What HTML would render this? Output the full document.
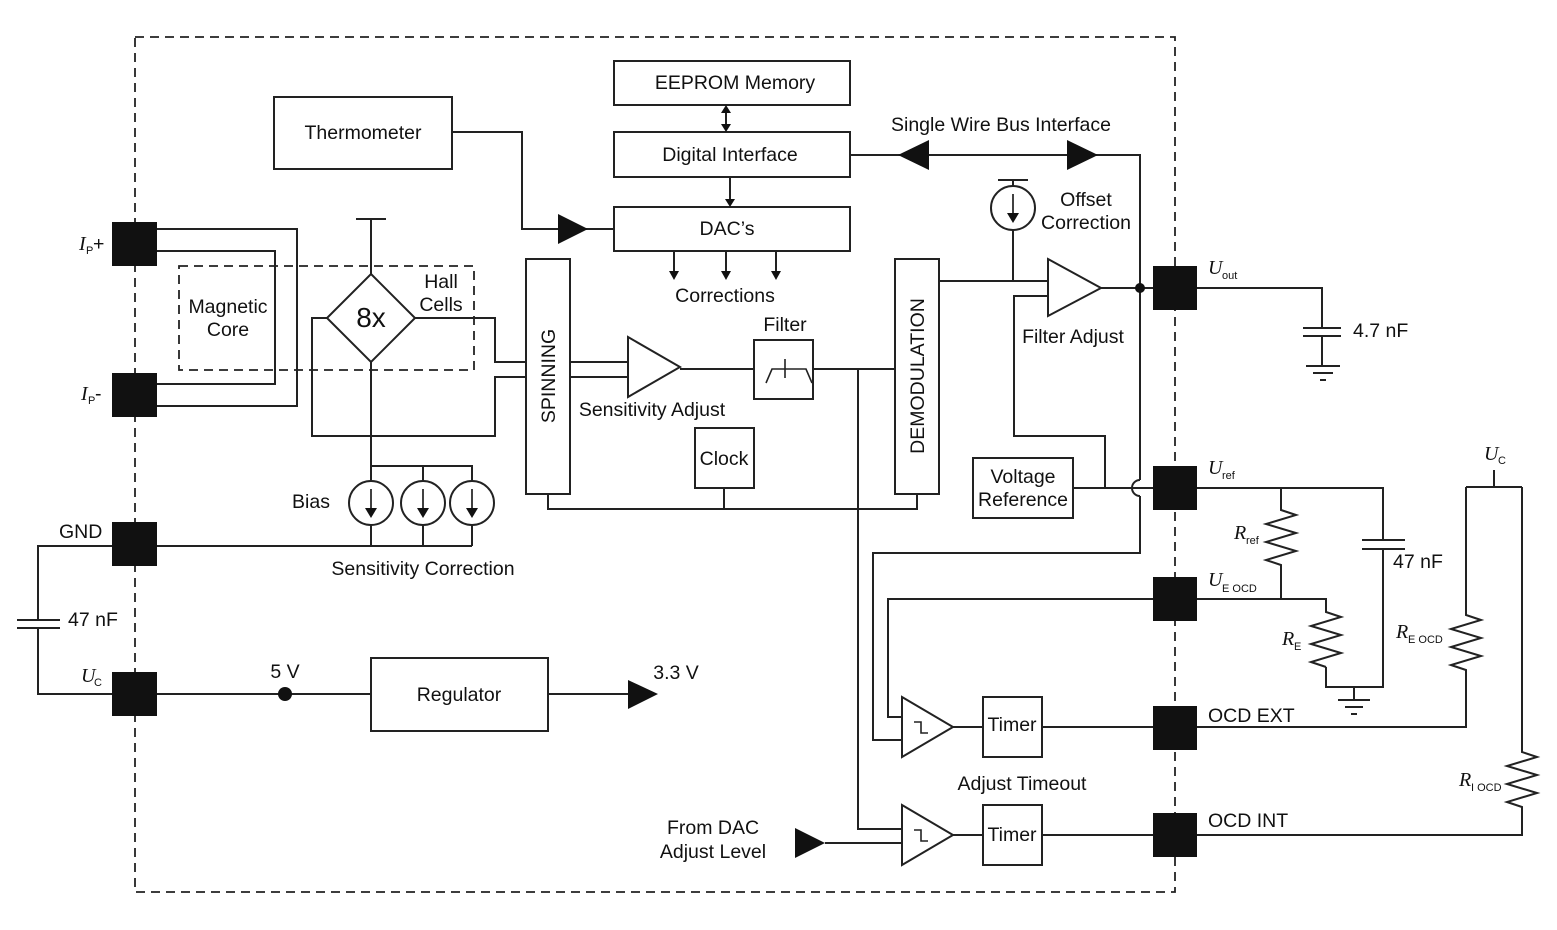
<!DOCTYPE html>
<html><head><meta charset="utf-8"><style>
html,body{margin:0;padding:0;background:#fff}
svg{display:block}
text{font-family:"Liberation Sans",Arial,sans-serif;font-size:19.5px;fill:#111}
.i{font-family:"Liberation Serif",serif;font-style:italic;font-size:20px}
.s{font-size:11px}
</style></head><body>
<svg width="1557" height="930" viewBox="0 0 1557 930" xmlns="http://www.w3.org/2000/svg">
<g fill="none" stroke="#222" stroke-width="2">
<rect x="135" y="37" width="1040" height="855" stroke-dasharray="9,6" stroke-width="1.8"/>
<rect x="179" y="266" width="295" height="104" stroke-dasharray="9,6" stroke-width="1.8"/>
<rect x="614" y="61" width="236" height="44"/>
<rect x="614" y="132" width="236" height="45"/>
<rect x="614" y="207" width="236" height="44"/>
<rect x="274" y="97" width="178" height="72"/>
<rect x="526" y="259" width="44" height="235"/>
<rect x="895" y="259" width="44" height="235"/>
<rect x="754" y="340" width="59" height="59"/>
<rect x="695" y="428" width="59" height="60"/>
<rect x="973" y="458" width="100" height="60"/>
<rect x="371" y="658" width="177" height="73"/>
<rect x="983" y="697" width="59" height="60"/>
<rect x="983" y="805" width="59" height="60"/>
<polyline points="157,229 297,229 297,406 157,406"/>
<polyline points="157,251 275,251 275,384 157,384"/>
<polygon points="371,274 415,318 371,362 327,318"/>
<polyline points="371,274 371,219"/><line x1="356" y1="219" x2="386" y2="219"/>
<polyline points="327,318 312,318 312,436 495,436 495,377 526,377"/>
<polyline points="415,318 495,318 495,362 526,362"/>
<polyline points="371,362 371,546"/>
<polyline points="371,466 472,466 472,546"/><line x1="423" y1="466" x2="423" y2="546"/>
<circle cx="371" cy="503" r="22" fill="#fff"/><circle cx="423" cy="503" r="22" fill="#fff"/><circle cx="472" cy="503" r="22" fill="#fff"/>
<line x1="157" y1="546" x2="472" y2="546"/>
<line x1="570" y1="362" x2="628" y2="362"/><line x1="570" y1="377" x2="628" y2="377"/>
<polygon points="628,337 680,367 628,397" fill="#fff"/>
<line x1="680" y1="369" x2="754" y2="369"/>
<line x1="813" y1="369" x2="895" y2="369"/>
<polyline points="766,383 772,369 806,369 812,383" stroke-width="1.6"/><line x1="785" y1="359" x2="785" y2="378" stroke-width="1.6"/>
<polyline points="548,494 548,509 917,509 917,494"/><line x1="724" y1="488" x2="724" y2="509"/>
<polyline points="452,132 522,132 522,229 614,229"/>
<line x1="726" y1="108" x2="726" y2="129"/>
<line x1="730" y1="177" x2="730" y2="204"/>
<line x1="674" y1="251" x2="674" y2="278"/><line x1="726" y1="251" x2="726" y2="278"/><line x1="776" y1="251" x2="776" y2="278"/>
<polyline points="850,155 1140,155 1140,480"/>
<path d="M1140,480 A8,8 0 0 0 1140,496"/>
<polyline points="1140,496 1140,553 873,553 873,740 902,740"/>
<line x1="998" y1="180" x2="1028" y2="180"/><line x1="1013" y1="180" x2="1013" y2="186"/>
<circle cx="1013" cy="208" r="22" fill="#fff"/>
<line x1="1013" y1="230" x2="1013" y2="281"/>
<line x1="939" y1="281" x2="1048" y2="281"/>
<polygon points="1048,259 1101,288 1048,316" fill="#fff"/>
<polyline points="1048,296 1014,296 1014,436 1105,436 1105,488"/>
<line x1="1101" y1="288" x2="1153" y2="288"/>
<line x1="1073" y1="488" x2="1153" y2="488"/>
<polyline points="858,369 858,829 902,829"/>
<polyline points="1153,599 888,599 888,717 902,717"/>
<polygon points="902,697 953,727 902,757" fill="#fff"/>
<polygon points="902,805 953,835 902,865" fill="#fff"/>
<polyline points="914,722 921,722 921,733 928,733" stroke-width="1.6"/>
<polyline points="914,830 921,830 921,841 928,841" stroke-width="1.6"/>
<line x1="953" y1="727" x2="983" y2="727"/><line x1="1042" y1="727" x2="1153" y2="727"/>
<line x1="953" y1="835" x2="983" y2="835"/><line x1="1042" y1="835" x2="1153" y2="835"/>
<line x1="825" y1="843" x2="902" y2="843"/>
<line x1="157" y1="694" x2="371" y2="694"/>
<line x1="548" y1="694" x2="632" y2="694"/>
<polyline points="112,546 38,546 38,620"/><polyline points="38,628 38,694 112,694"/>
<line x1="17" y1="620" x2="60" y2="620"/><line x1="17" y1="628" x2="60" y2="628"/>
<polyline points="1197,288 1322,288 1322,328"/><line x1="1303" y1="328" x2="1341" y2="328"/><line x1="1303" y1="336" x2="1341" y2="336"/>
<line x1="1322" y1="336" x2="1322" y2="366"/>
<line x1="1306" y1="366" x2="1340" y2="366"/><line x1="1313" y1="373" x2="1333" y2="373"/><line x1="1320" y1="380" x2="1326" y2="380"/>
<polyline points="1197,488 1383,488 1383,540"/>
<line x1="1362" y1="540" x2="1405" y2="540"/><line x1="1362" y1="549" x2="1405" y2="549"/>
<polyline points="1383,549 1383,687 1326,687 1326,667"/>
<polyline points="1281,488 1281,510 1296,515 1266,524 1296,533 1266,542 1296,551 1266,560 1281,565 1281,599"/>
<polyline points="1197,599 1326,599 1326,612 1341,617 1311,626 1341,635 1311,644 1341,653 1311,662 1326,667"/>
<line x1="1354" y1="687" x2="1354" y2="700"/>
<line x1="1338" y1="700" x2="1370" y2="700"/><line x1="1345" y1="707" x2="1363" y2="707"/><line x1="1351" y1="714" x2="1357" y2="714"/>
<line x1="1494" y1="470" x2="1494" y2="487"/>
<polyline points="1466,487 1522,487"/>
<polyline points="1466,487 1466,615 1481,620 1451,629 1481,638 1451,647 1481,656 1451,665 1466,670 1466,727 1197,727"/>
<polyline points="1522,487 1522,752 1537,757 1507,766 1537,775 1507,784 1537,793 1507,802 1522,807 1522,835 1197,835"/>
</g>
<g fill="#111" stroke="none">
<rect x="112" y="222" width="45" height="44"/><rect x="112" y="373" width="45" height="44"/>
<rect x="112" y="522" width="45" height="44"/><rect x="112" y="672" width="45" height="44"/>
<rect x="1153" y="266" width="44" height="44"/><rect x="1153" y="466" width="44" height="44"/>
<rect x="1153" y="577" width="44" height="44"/><rect x="1153" y="706" width="44" height="44"/>
<rect x="1153" y="813" width="44" height="44"/>
<polygon points="721,113 731,113 726,105"/><polygon points="721,124 731,124 726,132"/>
<polygon points="725,199 735,199 730,207"/>
<polygon points="669,271 679,271 674,280"/><polygon points="721,271 731,271 726,280"/><polygon points="771,271 781,271 776,280"/>
<polygon points="558,214 588,229 558,244"/>
<polygon points="929,140 898,155 929,170"/><polygon points="1067,140 1098,155 1067,170"/>
<polygon points="628,680 658,694 628,709"/>
<polygon points="795,828 825,843 795,858"/>
<circle cx="1140" cy="288" r="5"/><circle cx="285" cy="694" r="7"/>
<polygon points="365,508 377,508 371,518"/><polygon points="417,508 429,508 423,518"/><polygon points="466,508 478,508 472,518"/>
<polygon points="1007,213 1019,213 1013,223"/>
</g>
<g stroke="#111" stroke-width="1.6">
<line x1="371" y1="489" x2="371" y2="512"/><line x1="423" y1="489" x2="423" y2="512"/><line x1="472" y1="489" x2="472" y2="512"/>
<line x1="1013" y1="194" x2="1013" y2="217"/>
</g>
<text x="735" y="89" text-anchor="middle">EEPROM Memory</text>
<text x="730" y="161" text-anchor="middle">Digital Interface</text>
<text x="727" y="235" text-anchor="middle">DAC’s</text>
<text x="363" y="139" text-anchor="middle">Thermometer</text>
<text x="1001" y="131" text-anchor="middle">Single Wire Bus Interface</text>
<text x="1086" y="206" text-anchor="middle">Offset</text>
<text x="1086" y="229" text-anchor="middle">Correction</text>
<text x="725" y="302" text-anchor="middle">Corrections</text>
<text x="228" y="313" text-anchor="middle">Magnetic</text>
<text x="228" y="336" text-anchor="middle">Core</text>
<text x="441" y="288" text-anchor="middle">Hall</text>
<text x="441" y="311" text-anchor="middle">Cells</text>
<text x="371" y="327" text-anchor="middle" style="font-size:28px">8x</text>
<text x="785" y="331" text-anchor="middle">Filter</text>
<text x="652" y="416" text-anchor="middle">Sensitivity Adjust</text>
<text x="1073" y="343" text-anchor="middle">Filter Adjust</text>
<text x="724" y="465" text-anchor="middle">Clock</text>
<text x="1023" y="483" text-anchor="middle">Voltage</text>
<text x="1023" y="506" text-anchor="middle">Reference</text>
<text x="311" y="508" text-anchor="middle">Bias</text>
<text x="423" y="575" text-anchor="middle">Sensitivity Correction</text>
<text transform="translate(555,376) rotate(-90)" text-anchor="middle">SPINNING</text>
<text transform="translate(924,376) rotate(-90)" text-anchor="middle">DEMODULATION</text>
<text x="459" y="701" text-anchor="middle">Regulator</text>
<text x="285" y="678" text-anchor="middle">5 V</text>
<text x="676" y="679" text-anchor="middle">3.3 V</text>
<text x="1012" y="731" text-anchor="middle">Timer</text>
<text x="1012" y="841" text-anchor="middle">Timer</text>
<text x="1022" y="790" text-anchor="middle">Adjust Timeout</text>
<text x="713" y="834" text-anchor="middle">From DAC</text>
<text x="713" y="858" text-anchor="middle">Adjust Level</text>
<text x="59" y="538">GND</text>
<text x="68" y="626">47 nF</text>
<text x="1353" y="337">4.7 nF</text>
<text x="1393" y="568">47 nF</text>
<text x="1208" y="722">OCD EXT</text>
<text x="1208" y="827">OCD INT</text>
<text class="i" x="79" y="250">I</text><text class="s" x="86" y="254">P</text><text x="93" y="250">+</text>
<text class="i" x="81" y="400">I</text><text class="s" x="88" y="404">P</text><text x="95" y="400">-</text>
<text class="i" x="81" y="682">U</text><text class="s" x="94" y="686">C</text>
<text class="i" x="1208" y="274">U</text><text class="s" x="1222" y="279">out</text>
<text class="i" x="1208" y="474">U</text><text class="s" x="1222" y="479">ref</text>
<text class="i" x="1208" y="586">U</text><text class="s" x="1222" y="592">E OCD</text>
<text class="i" x="1484" y="460">U</text><text class="s" x="1498" y="464">C</text>
<text class="i" x="1234" y="539">R</text><text class="s" x="1246" y="544">ref</text>
<text class="i" x="1282" y="645">R</text><text class="s" x="1294" y="650">E</text>
<text class="i" x="1396" y="638">R</text><text class="s" x="1408" y="643">E OCD</text>
<text class="i" x="1459" y="786">R</text><text class="s" x="1471" y="791">I OCD</text>
</svg>
</body></html>
